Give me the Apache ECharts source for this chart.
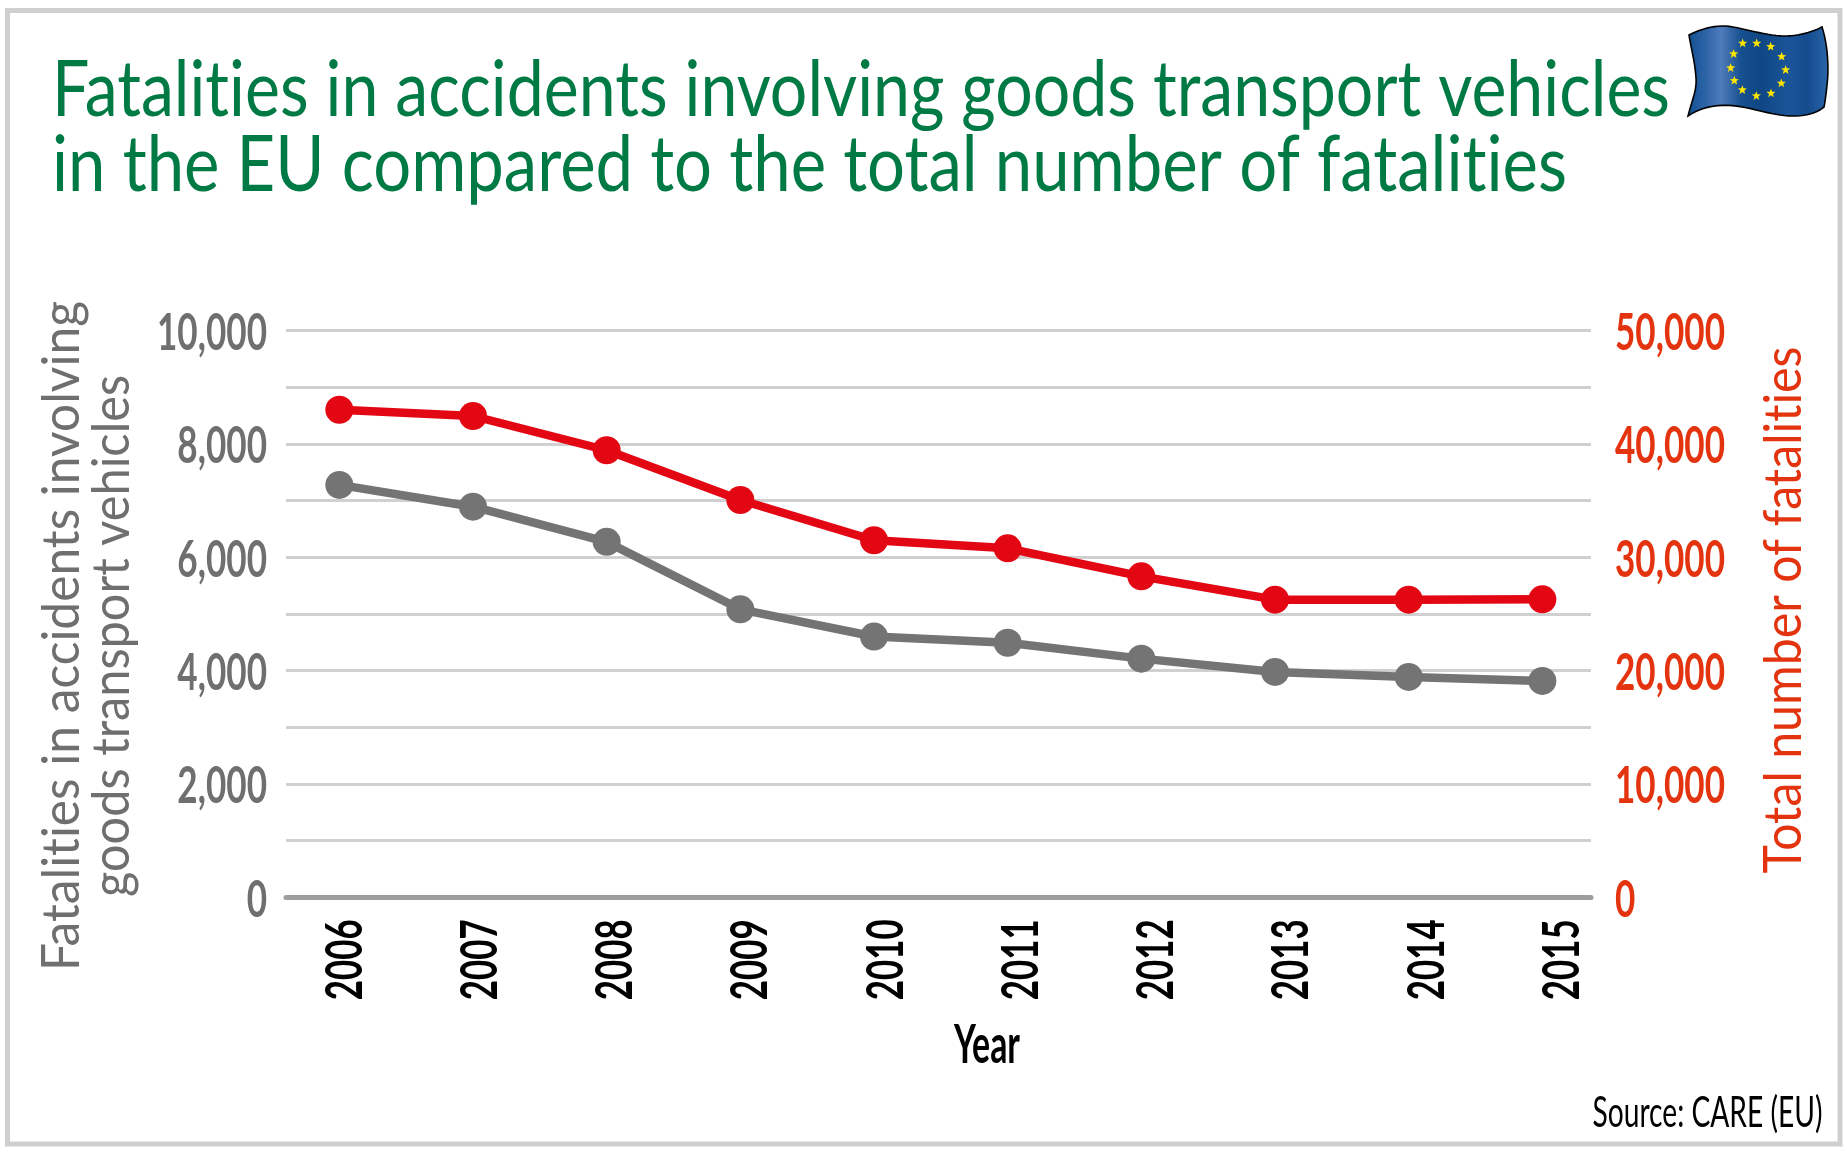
<!DOCTYPE html>
<html><head><meta charset="utf-8">
<style>html,body{margin:0;padding:0;background:#fff}#c{width:1847px;height:1155px}</style>
<script src="https://cdn.jsdelivr.net/npm/echarts@6/dist/echarts.min.js"></script>
</head><body><div id="c"></div>
<script>
const years = [2006,2007,2008,2009,2010,2011,2012,2013,2014,2015];
const goodsFatalities = [7275,6890,6270,5080,4600,4490,4210,3975,3888,3817];
const totalFatalities = [43000,42450,39430,35040,31490,30780,28310,26250,26250,26280];
const leftTicks = [0,2000,4000,6000,8000,10000];
const rightTicks = [0,10000,20000,30000,40000,50000];
const titleLines = ['Fatalities in accidents involving goods transport vehicles','in the EU compared to the total number of fatalities'];
const leftName = ['Fatalities in accidents involving','goods transport vehicles'];
const rightName = 'Total number of fatalities';
const xName = 'Year';
const sourceText = 'Source: CARE (EU)';

// A tiny letter spacing switches off Lato's "ti" ligature, which the reference's typeface does not have.
const origGetContext=HTMLCanvasElement.prototype.getContext;
HTMLCanvasElement.prototype.getContext=function(){const c=origGetContext.apply(this,arguments);
  if(c&&'letterSpacing' in c)c.letterSpacing='0.01px';return c;};

const FONT = 'Lato';
const GREEN='#007a45', GREY='#706f6f', RED='#e30613', ORANGE='#e3340f';
const cv=document.createElement('canvas').getContext('2d');
function scaleFor(t,font,w){cv.font=font;return w/cv.measureText(t).width;}
function txt(t,x,y,size,weight,fill,w,rot,align){
  const font=weight+' '+size+'px '+FONT;
  return {type:'text',x,y,rotation:rot||0,scaleX:w?scaleFor(t,font,w):1,z:10,
    style:{text:t,font,fill,textAlign:align||'left',textVerticalAlign:'middle'}};
}
function star(cx,cy,r){const p=[];for(let i=0;i<10;i++){const a=-Math.PI/2+i*Math.PI/5,q=i%2?r*0.42:r;
  p.push([cx+q*Math.cos(a),cy+q*Math.sin(a)]);}return p;}
const starCenters=[[218,100],[260,100],[302,110],[335,140],[347,180],[334,220],[303,250],[259,258],[217,240],[193,212],[182,174],[191,132]];
const flagSegs=[[1689,35],[1703,28,1718,24,1733,27],[1750,30,1768,36,1785,36],[1799,36,1812,32,1822,27],[1828,45,1829,70,1827,85],[1826,95,1825,102,1824,107],[1817,113,1806,116,1793,116],[1775,116,1760,110,1742,107],[1722,103,1703,106,1688,116],[1692,100,1697,90,1696,78],[1695,62,1691,48,1689,35]];
function flagPoints(){const pts=[];let [x0,y0]=flagSegs[0];pts.push([x0,y0]);
  for(const s of flagSegs.slice(1)){for(let k=1;k<=12;k++){const t=k/12,u=1-t;
    pts.push([u*u*u*x0+3*u*u*t*s[0]+3*u*t*t*s[2]+t*t*t*s[4],u*u*u*y0+3*u*u*t*s[1]+3*u*t*t*s[3]+t*t*t*s[5]]);}
    x0=s[4];y0=s[5];}
  return pts;}

const graphic=[
 {type:'rect',shape:{x:7.5,y:10.5,width:1832.5,height:1133.5},style:{fill:'none',stroke:'#cfcfcf',lineWidth:5},z:0},
 {type:'polygon',shape:{points:flagPoints()},
  style:{stroke:'#000',lineWidth:1.6,fill:new echarts.graphic.LinearGradient(0,0,1,0,[
   {offset:0,color:'#124e8e'},{offset:0.12,color:'#2a62a6'},{offset:0.24,color:'#4f7cba'},{offset:0.38,color:'#17508f'},
   {offset:0.52,color:'#0f4784'},{offset:0.72,color:'#1b5599'},{offset:0.85,color:'#144c8e'},{offset:1,color:'#2a66aa'}])},z:5},
 ...starCenters.map(([a,b])=>({type:'polygon',shape:{points:star(1670+a/3,10+b/3,4.8)},style:{fill:'#fde500'},z:6})),
 txt(titleLines[0],52,91,78,'normal',GREEN,1618),
 txt(titleLines[1],52,166,78,'normal',GREEN,1515),
 txt(leftName[0],62,636,53,'normal',GREY,670,Math.PI/2,'center'),
 txt(leftName[1],112,636,53,'normal',GREY,522,Math.PI/2,'center'),
 txt(rightName,1784,610,53,'normal',ORANGE,527,Math.PI/2,'center'),
 txt(xName,987,1046,53,'bold','#000',66,0,'center'),
 txt(sourceText,1592.5,1113,43,'normal','#000',230)
];

const valueFont={fontFamily:FONT,fontSize:51,fontWeight:'bold'};
const yearFont={fontFamily:FONT,fontSize:52,fontWeight:'bold'};
const fmt=v=>Number(v).toLocaleString('en-US');
const chart=echarts.init(document.getElementById('c'),null,{renderer:'canvas'});
chart.setOption({
 animation:false,backgroundColor:'#fff',graphic,
 grid:{left:286,right:256,top:330.4,bottom:257.7,containLabel:false},
 xAxis:[
  {type:'value',position:'bottom',min:2005.601,max:2015.364,axisLine:{show:true,onZero:false,lineStyle:{color:'#9d9d9d',width:5}},
   axisTick:{show:false},axisLabel:{show:false},splitLine:{show:false}},
  {type:'value',position:'bottom',min:2005.571,max:2015.222,axisLine:{show:false},axisTick:{show:false},splitLine:{show:false},
   axisLabel:{customValues:years,rotate:90,margin:22,color:'#000',formatter:v=>String(v),...yearFont,hideOverlap:false}}
 ],
 yAxis:[
  {type:'value',min:0,max:10000,interval:1000,axisLine:{show:false},axisTick:{show:false},
   splitLine:{show:true,lineStyle:{color:'#d0d0d0',width:3}},
   axisLabel:{customValues:leftTicks,margin:19,color:GREY,formatter:fmt,...valueFont}},
  {type:'value',position:'right',min:0,max:50000,interval:5000,axisLine:{show:false},axisTick:{show:false},splitLine:{show:false},
   axisLabel:{customValues:rightTicks,margin:24,color:ORANGE,formatter:fmt,...valueFont}}
 ],
 series:[
  {type:'line',name:'Goods transport',xAxisIndex:0,yAxisIndex:0,data:years.map((y,i)=>[y,goodsFatalities[i]]),
   lineStyle:{color:'#747474',width:8.5},itemStyle:{color:'#747474'},symbol:'circle',symbolSize:28,z:3},
  {type:'line',name:'Total',xAxisIndex:0,yAxisIndex:1,data:years.map((y,i)=>[y,totalFatalities[i]]),
   lineStyle:{color:RED,width:8.5},itemStyle:{color:RED},symbol:'circle',symbolSize:28,z:4}
 ]
});
// The reference's numerals are condensed: narrow the real axis labels along their reading direction.
const zr=chart.getZr();
const sVal=scaleFor('50,000','bold 51px '+FONT,110), sYear=scaleFor('2006','bold 52px '+FONT,81);
const valueLabels=new Set([...leftTicks,...rightTicks].map(fmt)), yearLabels=new Set(years.map(String));
function walk(el){
  if(el.isGroup){el.eachChild(walk);return;}
  const t=el.style&&el.style.text;
  if(t==null)return;
  if(yearLabels.has(t)){el.scaleX=sYear;el.x+=1;el.markRedraw();}
  else if(valueLabels.has(t)){el.scaleX=sVal;el.y+=3;el.markRedraw();}
}
zr.storage.getRoots().forEach(walk);
zr.refreshImmediately();
</script></body></html>
